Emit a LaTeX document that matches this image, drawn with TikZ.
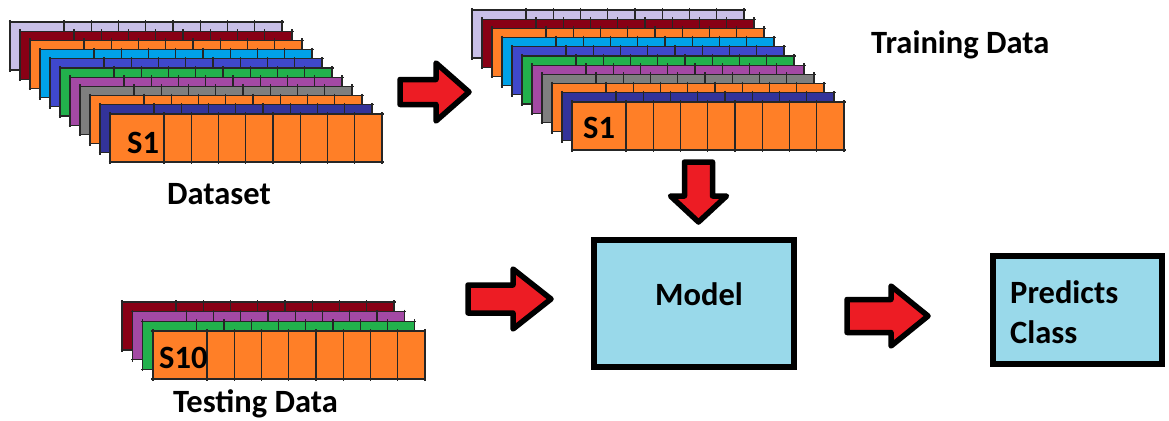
\documentclass[tikz,border=0pt]{standalone}
\usepackage{fontspec}
\setmainfont{Carlito}

% Paint-style palette
\definecolor{lav}{HTML}{C8BFE7}
\definecolor{dred}{HTML}{880015}
\definecolor{orng}{HTML}{FF7F27}
\definecolor{cyn}{HTML}{00A2E8}
\definecolor{indg}{HTML}{3F48CC}
\definecolor{grn}{HTML}{22B14C}
\definecolor{prp}{HTML}{A349A4}
\definecolor{gry}{HTML}{7F7F7F}
\definecolor{navy}{HTML}{33339A}
\definecolor{arrowred}{HTML}{ED1C24}
\definecolor{panelblue}{HTML}{99D9EA}

\tikzset{
  cellline/.style={draw=black!85, line width=1.3pt},
  blockarrow/.style={draw=black, fill=arrowred, line width=5.5pt, line join=round},
  panel/.style={draw=black, fill=panelblue, line width=6pt, inner sep=0pt},
  lbl/.style={font=\fontsize{32.5}{40}\selectfont\bfseries, inner sep=0pt, anchor=base west},
}

% one record: a 272 x 48 strip with a wide first cell and eight narrow cells
\newcommand\recstrip[3]{%
  \fill[#3] (#1,#2) rectangle ++(272,48);
  \draw[cellline] (#1-1.5,#2) -- ++(275,0) (#1-1.5,#2+48) -- ++(275,0);
  \foreach \d in {0,54,81.25,108.5,135.75,163,190.25,217.5,244.75,272}
    \draw[cellline] (#1+\d,#2-2) -- ++(0,52);
}

% block arrow pointing right: tail x, centre y, shaft half-height, head base x, head half-height, tip x
\newcommand\rightblock[6]{%
  \draw[blockarrow] (#1,#2-#3) -- (#4,#2-#3) -- (#4,#2-#5) -- (#6,#2)
    -- (#4,#2+#5) -- (#4,#2+#3) -- (#1,#2+#3) -- cycle;
}

\begin{document}
\begin{tikzpicture}[x=1pt,y=-1pt]
\useasboundingbox (0,0) rectangle (1169,420);

% full dataset
\foreach \c [count=\i from 0] in {lav,dred,orng,cyn,indg,grn,prp,gry,orng,navy,orng}
  {\recstrip{10+10*\i}{22+9.2*\i}{\c}}
\node[lbl] (s1a) at (127,153) {S1};
\node[lbl] (dataset) at (167,204) {Dataset};

% training split
\foreach \c [count=\i from 0] in {lav,dred,orng,cyn,indg,grn,prp,gry,orng,navy,orng}
  {\recstrip{472+10*\i}{10+9.2*\i}{\c}}
\node[lbl] (s1b) at (583,138) {S1};
\node[lbl] (training) at (871,53) {Training Data};

% testing split
\foreach \c [count=\i from 0] in {dred,prp,grn,orng}
  {\recstrip{122+10.33*\i}{302+9.67*\i}{\c}}
\node[lbl] (s10) at (159,368) {S10};
\node[lbl] (testing) at (173,412) {Testing Data};

% model and output
\node[panel, minimum width=200pt, minimum height=127pt] (model) at (694,303.5) {};
\node[lbl] (modeltext) at (655,305) {Model};
\node[panel, minimum width=169pt, minimum height=108pt] (predicts) at (1077.5,310) {};
\node[lbl] (predtext) at (1010,303) {Predicts};
\node[lbl] (classtext) at (1010,343) {Class};

% block arrows
\rightblock{400}{92}{12.5}{436}{29}{469}
\rightblock{468}{299}{14}{513}{30}{551}
\rightblock{847}{316}{16.5}{891}{30}{928}
\draw[blockarrow] (698.5-14,162) -- (698.5+14,162) -- (698.5+14,196) -- (698.5+28,196)
  -- (698.5,222) -- (698.5-28,196) -- (698.5-14,196) -- cycle;
\end{tikzpicture}
\end{document}
